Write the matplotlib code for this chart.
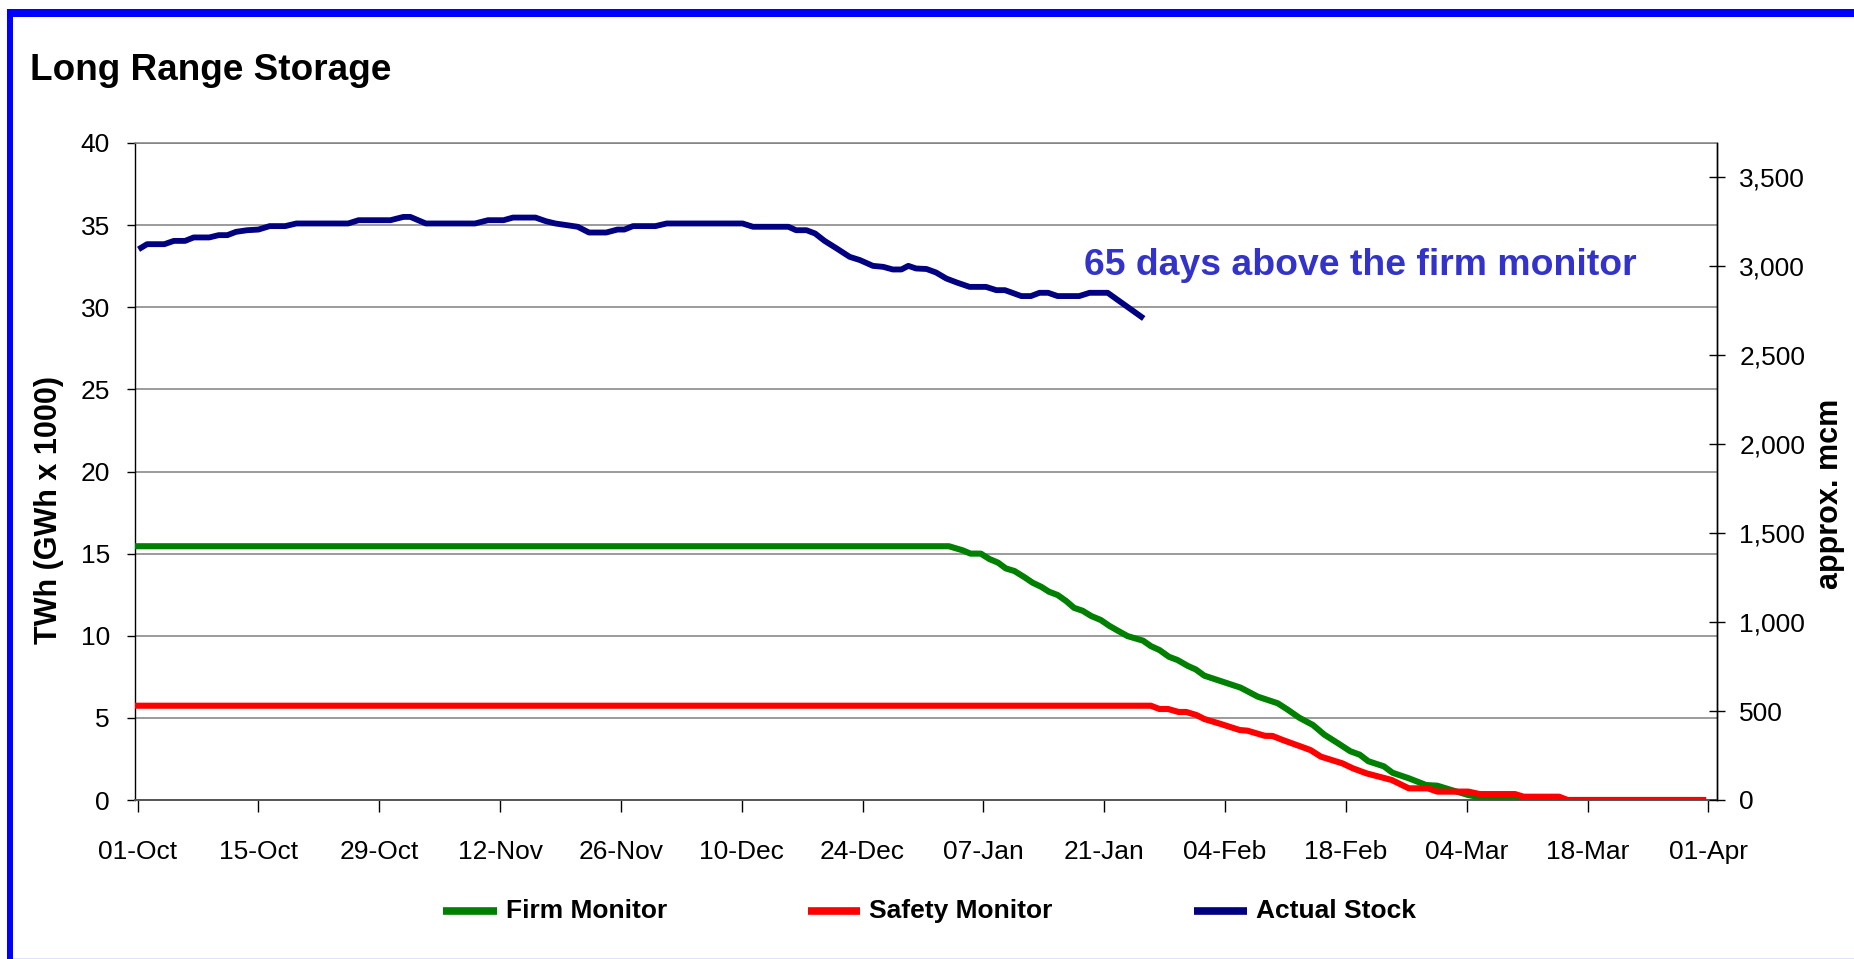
import matplotlib
matplotlib.use("Agg")
import matplotlib.pyplot as plt
from matplotlib.lines import Line2D
from matplotlib.patches import Rectangle
from matplotlib.ticker import FuncFormatter, MultipleLocator

# ---------------- data (days counted from 01-Oct) ----------------
firm_days = [0, 94, 95.6, 96.5, 97.7, 98.7, 99.7, 100.6, 101.6, 102.8, 103.7, 104.7,
             105.6, 106.6, 107.6, 108.5, 109.5, 110.5, 111.6, 112.6, 113.6, 114.7,
             116.5, 117.4, 118.4, 119.5, 120.5, 121.7, 122.6, 123.6, 125.5, 127.8,
             129.8, 132.1, 133.2, 134.6, 136.2, 137.5, 139.1, 140.5, 141.6, 142.6,
             144.4, 145.4, 147.3, 149.3, 150.6, 152.2, 154.2, 156.3, 159.2, 160.8, 181]
firm_vals = [15.45, 15.45, 15.2, 15.0, 15.0, 14.67, 14.45, 14.1, 13.94, 13.55, 13.23, 12.98,
             12.68, 12.48, 12.11, 11.7, 11.52, 11.2, 10.96, 10.6, 10.3, 9.98,
             9.7, 9.37, 9.13, 8.72, 8.52, 8.16, 7.95, 7.57, 7.24, 6.84,
             6.29, 5.89, 5.52, 5.01, 4.56, 3.98, 3.45, 2.97, 2.76, 2.36,
             2.05, 1.66, 1.32, 0.91, 0.87, 0.61, 0.30, 0.10, 0.04, 0.0, 0.0]

safety_days = [0, 117.4, 118.4, 119.4, 120.6, 121.5, 122.7, 123.6, 125.5, 127.7, 128.6,
               130.6, 131.5, 132.7, 134.6, 135.9, 137.1, 139.6, 140.8, 142.4, 145.3,
               147.3, 149.5, 150.6, 154.2, 155.5, 159.6, 160.6, 164.7, 165.7, 181.4]
safety_vals = [5.74, 5.74, 5.54, 5.54, 5.36, 5.36, 5.17, 4.93, 4.63, 4.26, 4.22,
               3.91, 3.90, 3.65, 3.29, 3.04, 2.64, 2.23, 1.93, 1.62, 1.22,
               0.71, 0.71, 0.51, 0.51, 0.36, 0.36, 0.20, 0.20, 0.0, 0.0]

stock_days = [0.4, 1.1, 3.1, 4.2, 5.5, 6.5, 8.3, 9.4, 10.4, 11.4, 12.7, 14.0, 15.3, 17.1,
              18.4, 24.4, 25.6, 29.3, 30.8, 31.6, 33.4, 39.1, 40.6, 42.4, 43.5, 46.1,
              47.3, 48.4, 51.0, 52.3, 54.3, 55.6, 56.4, 57.4, 60.0, 61.3, 70.1, 71.3,
              75.4, 76.3, 77.5, 78.5, 79.6, 81.0, 82.5, 83.7, 85.2, 86.4, 87.5, 88.5,
              89.3, 90.2, 91.4, 92.5, 93.7, 94.9, 96.4, 98.3, 99.5, 100.5, 102.4, 103.5,
              104.5, 105.5, 106.6, 109.1, 110.3, 112.4, 113.6, 116.3]
stock_vals = [33.62, 33.84, 33.84, 34.04, 34.04, 34.25, 34.25, 34.39, 34.39, 34.59, 34.69,
              34.73, 34.94, 34.94, 35.1, 35.1, 35.3, 35.3, 35.5, 35.5, 35.1, 35.1, 35.3,
              35.3, 35.46, 35.46, 35.24, 35.1, 34.9, 34.55, 34.55, 34.73, 34.73, 34.94,
              34.94, 35.1, 35.1, 34.9, 34.9, 34.69, 34.69, 34.49, 34.04, 33.58, 33.07,
              32.87, 32.52, 32.46, 32.3, 32.3, 32.52, 32.36, 32.33, 32.12, 31.75, 31.51,
              31.24, 31.24, 31.04, 31.04, 30.68, 30.68, 30.88, 30.88, 30.68, 30.68,
              30.88, 30.88, 30.43, 29.42]

x_tick_labels = ["01-Oct", "15-Oct", "29-Oct", "12-Nov", "26-Nov", "10-Dec", "24-Dec",
                 "07-Jan", "21-Jan", "04-Feb", "18-Feb", "04-Mar", "18-Mar", "01-Apr"]
series_names = ["Firm Monitor", "Safety Monitor", "Actual Stock"]
series_colors = ["#008000", "#FF0000", "#000080"]
mcm_per_twh = 92.3
title = "Long Range Storage"
annotation = "65 days above the firm monitor"
left_label = "TWh (GWh x 1000)"
right_label = "approx. mcm"

# ---------------- figure ----------------
W, H = 1854, 959
plt.rcParams["font.family"] = ["Liberation Sans", "DejaVu Sans"]
fig = plt.figure(figsize=(W / 100, H / 100), dpi=100)
fig.patch.set_facecolor("white")

def fx(px):
    return px / W

def fy(py):
    return 1 - py / H

ax = fig.add_axes([fx(135), fy(800), fx(1717) - fx(135), fy(143) - fy(800)])
ax.set_facecolor("white")

ax.plot(firm_days, firm_vals, color=series_colors[0], lw=4.4, solid_joinstyle="round", zorder=3)
ax.plot(safety_days, safety_vals, color=series_colors[1], lw=4.4, solid_joinstyle="round", zorder=4)
ax.plot(stock_days, stock_vals, color=series_colors[2], lw=4.2, solid_joinstyle="round", zorder=5)

ax.set_xlim(-0.3, 183.0)
ax.set_ylim(0, 40)
ax.yaxis.set_major_locator(MultipleLocator(5))
ax.set_xticks([14 * i for i in range(len(x_tick_labels))])
ax.set_xticklabels(x_tick_labels)
ax.grid(axis="y", color="#808080", lw=1.1, zorder=1)
ax.set_axisbelow(True)

for s in ["left", "right"]:
    ax.spines[s].set_color("#000000")
    ax.spines[s].set_linewidth(1.0)
ax.spines["bottom"].set_color("#555555")
ax.spines["bottom"].set_linewidth(1.4)
ax.spines["top"].set_color("#808080")
ax.spines["top"].set_linewidth(1.1)

ax.tick_params(axis="y", direction="out", length=6, width=1, pad=12, labelsize=19, colors="black")
ax.tick_params(axis="x", direction="out", length=8.5, width=1, pad=20, labelsize=19, colors="black")

ax2 = ax.twinx()
ax2.set_ylim(0, 40 * mcm_per_twh)
ax2.yaxis.set_major_locator(MultipleLocator(500))
ax2.yaxis.set_major_formatter(FuncFormatter(lambda v, p: f"{int(round(v)):,}"))
ax2.tick_params(axis="y", direction="inout", length=12, width=1, pad=10, labelsize=19, colors="black")
for s in ["left", "top", "bottom"]:
    ax2.spines[s].set_visible(False)
ax2.spines["right"].set_color("#000000")
ax2.spines["right"].set_linewidth(1.0)

# annotation
ax.text(109.7, 31.95, annotation, color="#3333CC", fontsize=26.9, fontweight="bold",
        ha="left", va="baseline", zorder=6)

# title and axis labels
fig.text(fx(30), fy(80), title, fontsize=26.6, fontweight="bold", ha="left", va="baseline")
fig.text(fx(49), fy(510), left_label, fontsize=22, fontweight="bold", rotation=90,
         ha="center", va="center")
fig.text(fx(1830), fy(494), right_label, fontsize=22, fontweight="bold", rotation=90,
         ha="center", va="center")

# legend
leg_line_x = [(443, 497), (808, 860), (1194, 1247)]
leg_text_x = [506, 869, 1256]
for (x0, x1), tx, name, col in zip(leg_line_x, leg_text_x, series_names, series_colors):
    fig.add_artist(Line2D([fx(x0), fx(x1)], [fy(911), fy(911)], color=col, lw=5.5,
                          solid_capstyle="butt", transform=fig.transFigure))
    fig.text(fx(tx), fy(918), name, fontsize=19, fontweight="bold", ha="left", va="baseline")

# page border
fig.add_artist(Rectangle((fx(7), fy(17)), 1 - fx(7), fy(9) - fy(17), transform=fig.transFigure,
                         facecolor="#0000FF", edgecolor="none"))
fig.add_artist(Rectangle((fx(7), 0), fx(13) - fx(7), fy(9), transform=fig.transFigure,
                         facecolor="#0000FF", edgecolor="none"))
fig.add_artist(Rectangle((fx(13), 0), 1 - fx(13), 1.5 / H, transform=fig.transFigure,
                         facecolor="#DDE3FF", edgecolor="none"))

fig.savefig("out.png", dpi=100, facecolor="white")
